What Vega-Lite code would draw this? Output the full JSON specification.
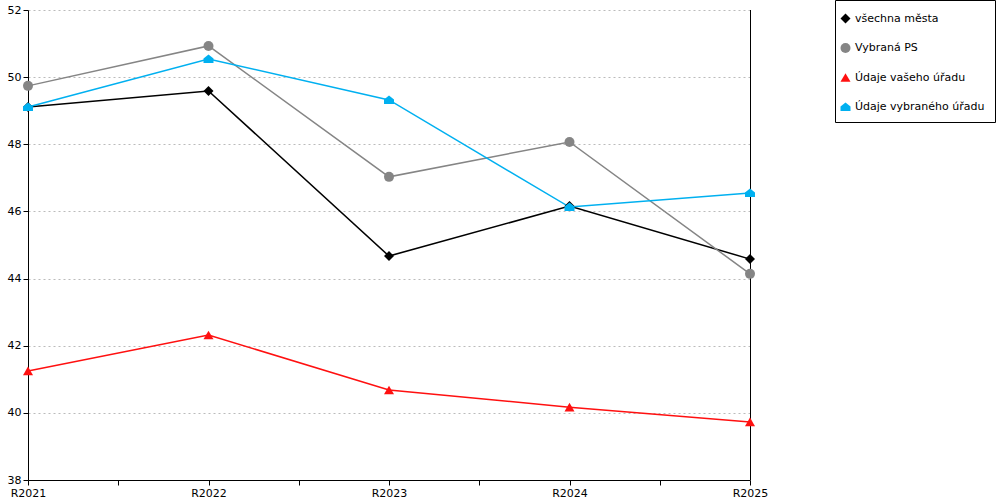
{
  "$schema": "https://vega.github.io/schema/vega-lite/v6.json",
  "width": 722,
  "height": 470,
  "autosize": {"type": "none"},
  "padding": {"left": 28, "top": 10, "right": 250, "bottom": 20},
  "background": "white",
  "config": {
    "font": "DejaVu Sans",
    "view": {"stroke": null},
    "axis": {
      "labelFont": "DejaVu Sans",
      "labelFontSize": 11,
      "labelColor": "black",
      "domainColor": "black",
      "tickColor": "black",
      "tickSize": 5,
      "title": null
    },
    "legend": {
      "labelFont": "DejaVu Sans",
      "labelFontSize": 11,
      "labelColor": "black"
    }
  },
  "data": {
    "values": [
      {"rok": 2021, "rada": "všechna města", "hodnota": 49.11},
      {"rok": 2022, "rada": "všechna města", "hodnota": 49.59},
      {"rok": 2023, "rada": "všechna města", "hodnota": 44.67},
      {"rok": 2024, "rada": "všechna města", "hodnota": 46.16},
      {"rok": 2025, "rada": "všechna města", "hodnota": 44.58},
      {"rok": 2021, "rada": "Vybraná PS", "hodnota": 49.74},
      {"rok": 2022, "rada": "Vybraná PS", "hodnota": 50.93},
      {"rok": 2023, "rada": "Vybraná PS", "hodnota": 47.03},
      {"rok": 2024, "rada": "Vybraná PS", "hodnota": 48.07},
      {"rok": 2025, "rada": "Vybraná PS", "hodnota": 44.14},
      {"rok": 2021, "rada": "Údaje vašeho úřadu", "hodnota": 41.25},
      {"rok": 2022, "rada": "Údaje vašeho úřadu", "hodnota": 42.32},
      {"rok": 2023, "rada": "Údaje vašeho úřadu", "hodnota": 40.68},
      {"rok": 2024, "rada": "Údaje vašeho úřadu", "hodnota": 40.17},
      {"rok": 2025, "rada": "Údaje vašeho úřadu", "hodnota": 39.73},
      {"rok": 2021, "rada": "Údaje vybraného úřadu", "hodnota": 49.11},
      {"rok": 2022, "rada": "Údaje vybraného úřadu", "hodnota": 50.54},
      {"rok": 2023, "rada": "Údaje vybraného úřadu", "hodnota": 49.32},
      {"rok": 2024, "rada": "Údaje vybraného úřadu", "hodnota": 46.13},
      {"rok": 2025, "rada": "Údaje vybraného úřadu", "hodnota": 46.55}
    ]
  },
  "encoding": {
    "x": {
      "field": "rok",
      "type": "quantitative",
      "scale": {"domain": [2021, 2025], "nice": false, "zero": false},
      "axis": {
        "values": [2021, 2021.5, 2022, 2022.5, 2023, 2023.5, 2024, 2024.5, 2025],
        "labelExpr": "datum.value % 1 == 0 ? 'R' + datum.value : ''",
        "grid": false,
        "labelPadding": 2,
        "labelFlush": false,
        "labelOverlap": false
      }
    },
    "y": {
      "field": "hodnota",
      "type": "quantitative",
      "scale": {"domain": [38, 52], "nice": false, "zero": false},
      "axis": {
        "values": [38, 40, 42, 44, 46, 48, 50, 52],
        "grid": true,
        "gridColor": "#bbbbbb",
        "gridDash": [2, 3],
        "labelPadding": 2
      }
    },
    "color": {
      "field": "rada",
      "type": "nominal",
      "scale": {
        "domain": ["všechna města", "Vybraná PS", "Údaje vašeho úřadu", "Údaje vybraného úřadu"],
        "range": ["#000000", "#858585", "#ff1010", "#00b0f0"]
      },
      "legend": {
        "title": " ",
        "titleFontSize": 1,
        "titlePadding": 2,
        "orient": "none",
        "legendX": 807,
        "legendY": -10,
        "strokeColor": "black",
        "fillColor": "white",
        "padding": 10,
        "rowPadding": 17.5,
        "symbolSize": 100,
        "symbolStrokeWidth": 0,
        "symbolType": "circle",
        "symbolOffset": -5,
        "labelOffset": 4
      }
    }
  },
  "layer": [
    {
      "mark": {"type": "rule", "color": "black", "strokeWidth": 1, "xOffset": 0.5},
      "encoding": {"x": {"datum": 2025}, "y": {"value": 0}, "y2": {"value": 470}, "color": {"value": "black"}}
    },
    {
      "mark": {"type": "line", "strokeWidth": 1.5}
    },
    {
      "mark": {"type": "point", "filled": true, "size": 100, "opacity": 1, "strokeWidth": 0},
      "encoding": {
        "shape": {
          "field": "rada",
          "type": "nominal",
          "scale": {
            "domain": ["všechna města", "Vybraná PS", "Údaje vašeho úřadu", "Údaje vybraného úřadu"],
            "range": ["diamond", "circle", "triangle-up", "M-1,0.8L-1,-0.1L0,-0.9L1,-0.1L1,0.8Z"]
          }
        }
      }
    }
  ]
}
